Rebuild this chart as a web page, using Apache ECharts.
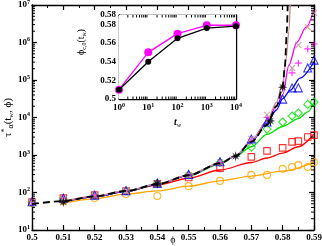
<!DOCTYPE html>
<html><head><meta charset="utf-8">
<script src="https://cdn.jsdelivr.net/npm/echarts@6/dist/echarts.min.js"></script>
<style>html,body{margin:0;padding:0;background:#fff}#c{width:322px;height:246px}</style>
</head><body><div id="c"></div>
<script>
// ---------- data ----------
var xTickLabels = ['0.5','0.51','0.52','0.53','0.54','0.55','0.56','0.57','0.58','0.59'];
var yTickExp = ['1','2','3','4','5','6','7'];
var insetXTickExp = ['0','1','2','3','4'];
var insetYTickLabels = ['0.5','0.52','0.54','0.56','0.58'];

// fitted/guide curve (black dashed)
var dashX = [0.5,0.51,0.52,0.53,0.54,0.55,0.56,0.565,0.57,0.575,0.578,0.58,0.5807,0.5813,0.5816];
var dashY = [49,59,79,110,166,288,603,933,2239,6310,19953,63096,223872,1778279,1e7];

// colored solid lines
var orangeLineX = [0.51,0.52,0.53,0.54,0.55,0.56,0.57,0.58,0.59];
var orangeLineY = [52,68,91,110,148,204,275,372,646];
var redLineX = [0.51,0.52,0.53,0.54,0.55,0.56,0.57,0.575,0.58,0.585,0.59];
var redLineY = [56,76,107,158,240,398,631,832,1122,1660,3631];
var greenLineX = [0.51,0.52,0.53,0.54,0.55,0.56,0.565,0.57,0.575,0.58,0.585,0.588,0.59];
var greenLineY = [56,76,107,166,282,575,933,1660,3548,5754,9333,14125,25119];
var blueLineX = [0.51,0.52,0.53,0.54,0.55,0.56,0.565,0.57,0.575,0.578,0.58,0.5825,0.5855,0.59];
var blueLineY = [56,76,107,166,288,603,933,2239,7079,15849,31623,53703,112202,301995];
var magentaLineX = [0.51,0.52,0.53,0.54,0.55,0.56,0.565,0.57,0.575,0.578,0.58,0.582,0.5845,0.5875,0.59];
var magentaLineY = [57,78,110,168,292,610,950,2344,7943,19953,39811,251189,1e6,2570396,7413102];
var rosyLineX = [0.51,0.52,0.53,0.54,0.55,0.56,0.565,0.57,0.575,0.578,0.58,0.581,0.582,0.5824];
var rosyLineY = [58,80,112,170,295,620,960,2344,7943,25119,79433,316228,1995262,1e7];

// markers
var orangePtsX = [0.5,0.51,0.52,0.53,0.54,0.55,0.56,0.57,0.575,0.58,0.583,0.585,0.588,0.59];
var orangePtsY = [52,58,71,91,81,148,204,295,295,427,479,537,479,646];
var redPtsX = [0.5,0.51,0.52,0.53,0.54,0.55,0.56,0.57,0.575,0.58,0.583,0.585,0.588,0.59];
var redPtsY = [56,71,85,110,170,251,447,891,1288,1549,2239,2344,3020,3388];
var greenPtsX = [0.5,0.51,0.52,0.53,0.54,0.55,0.56,0.57,0.575,0.58,0.583,0.585,0.588,0.59];
var greenPtsY = [55,66,83,110,174,295,631,1622,4898,7586,10965,13183,22387,25704];
var bluePtsX = [0.5,0.51,0.52,0.53,0.54,0.55,0.56,0.57,0.575,0.58,0.583,0.585,0.588,0.59];
var bluePtsY = [57,70,85,112,178,302,661,2692,7586,30903,61660,61660,208930,338844];
var plusPtsX = [0.5,0.51,0.52,0.53,0.54,0.55,0.56,0.57,0.575,0.583,0.585,0.588,0.59];
var plusPtsY = [55,68,85,110,174,295,631,2512,10000,154882,281838,676083,912011];
var crossPtsX = [0.5,0.51,0.52,0.53,0.54,0.55,0.56,0.57,0.575,0.583,0.585,0.588,0.59];
var crossPtsY = [53,66,83,107,170,290,640,2692,11749,208930,851138,2570396,6165950];
var starPtsX = [0.51,0.54,0.565,0.5761,0.58];
var starPtsY = [56,170,933,8128,64565];

// inset
var insetX = [1,10,100,1000,10000];
var insetBlackY = [0.51,0.54,0.565,0.576,0.578];
var insetMagentaY = [0.51,0.55,0.57,0.579,0.579];

// ---------- helpers ----------
function pairs(xs, ys){ return xs.map(function(x,i){ return [x, ys[i]]; }); }
var FONT = 'Liberation Serif';
var supRich = { base:{fontFamily:FONT,fontWeight:'bold',fontSize:9,color:'#000'},
                sup:{fontFamily:FONT,fontWeight:'bold',fontSize:6,color:'#000',verticalAlign:'top',padding:[0,0,6,0]} };

var logMinorMain = [];
for (var e = 1; e < 7; e++) for (var m = 2; m <= 9; m++) logMinorMain.push([0.5, m*Math.pow(10,e)]);
var logMinorInset = [];
for (var e2 = 0; e2 < 4; e2++) for (var m2 = 2; m2 <= 9; m2++) logMinorInset.push([m2*Math.pow(10,e2), 0.5]);

var PLUS = 'path://M0,5L10,5M5,0L5,10';
var CROSS = 'path://M0,0L10,10M0,10L10,0';
var STAR = 'path://M0,-10L1.8,-3.5L7.1,-7.1L3.5,-1.8L10,0L3.5,1.8L7.1,7.1L1.8,3.5L0,10L-1.8,3.5L-7.1,7.1L-3.5,1.8L-10,0L-3.5,-1.8L-7.1,-7.1L-1.8,-3.5Z';

function lineS(xs, ys, color){
  return {type:'line', xAxisIndex:0, yAxisIndex:0, data:pairs(xs,ys), showSymbol:false, symbol:'none',
          smooth:0.3, smoothMonotone:'x', lineStyle:{color:color,width:1.3}, z:3, silent:true, animation:false};
}
function ptsS(xs, ys, color, symbol, size){
  return {type:'scatter', xAxisIndex:0, yAxisIndex:0, data:pairs(xs,ys), symbol:symbol, symbolSize:size,
          itemStyle:{color:'none', borderColor:color, borderWidth:1.1}, z:4, silent:true, animation:false};
}

var chart = echarts.init(document.getElementById('c'), null, {renderer:'canvas'});
var axisLine = {show:true, lineStyle:{color:'#000', width:1.4}};

var option = {
  backgroundColor:'#fff',
  animation:false,
  grid:[
    {left:32, right:8, top:5, bottom:16, containLabel:false, outerBoundsMode:'none'},
    {left:119, top:15, width:117, height:84, show:true, backgroundColor:'#fff', borderWidth:0, z:2, containLabel:false, outerBoundsMode:'none'}
  ],
  xAxis:[
    {type:'value', gridIndex:0, min:0.5, max:0.59, interval:0.01, position:'bottom',
     axisLine:axisLine, axisTick:{inside:true,length:5,lineStyle:{width:1.2}},
     minorTick:{show:true,splitNumber:2,length:3,lineStyle:{color:'#000'}},
     splitLine:{show:false},
     axisLabel:{margin:3, fontFamily:FONT, fontWeight:'bold', fontSize:9, color:'#000',
       formatter:function(v){ return xTickLabels[Math.round((v-0.5)/0.01)]; }},
     name:'ϕ', nameLocation:'middle', nameGap:5, nameMoveOverlap:false, nameTextStyle:{fontFamily:FONT,fontSize:10,color:'#000'}},
    {type:'value', gridIndex:0, min:0.5, max:0.59, interval:0.01, position:'top',
     axisLine:axisLine, axisTick:{inside:true,length:5,lineStyle:{width:1.2}},
     minorTick:{show:true,splitNumber:2,length:3,lineStyle:{color:'#000'}},
     splitLine:{show:false}, axisLabel:{show:false}},
    {type:'log', gridIndex:1, min:1, max:10000, logBase:10, position:'bottom',
     axisLine:axisLine, axisTick:{inside:true,length:4}, splitLine:{show:false},
     axisLabel:{margin:3, rich:supRich, formatter:function(v){ var i=Math.round(Math.log10(v)); return '{base|10}{sup|'+insetXTickExp[i]+'}'; }},
     name:'{t|t}{w|w}', nameLocation:'middle', nameGap:18, nameMoveOverlap:false,
     nameTextStyle:{rich:{t:{fontFamily:FONT,fontStyle:'italic',fontWeight:'bold',fontSize:10,color:'#000'},
                          w:{fontFamily:FONT,fontStyle:'italic',fontSize:6,color:'#000',verticalAlign:'bottom',padding:[5,0,0,0]}}}},
    {type:'log', gridIndex:1, min:1, max:10000, logBase:10, position:'top',
     axisLine:axisLine, axisTick:{inside:true,length:4}, splitLine:{show:false}, axisLabel:{show:false}}
  ],
  yAxis:[
    {type:'log', gridIndex:0, min:10, max:1e7, logBase:10, position:'left',
     axisLine:axisLine, axisTick:{inside:true,length:5,lineStyle:{width:1.2}}, splitLine:{show:false},
     axisLabel:{margin:2, rich:supRich, formatter:function(v){ var i=Math.round(Math.log10(v))-1; return '{base|10}{sup|'+yTickExp[i]+'}'; }},
     name:'{a|τ}{s|*}{b|α}{c|(t}{d|w}{c|, ϕ)}', nameLocation:'middle', nameGap:17, nameRotate:90, nameMoveOverlap:false,
     nameTextStyle:{rich:{
       a:{fontFamily:FONT,fontSize:11,color:'#000'},
       s:{fontFamily:FONT,fontSize:8,color:'#000',verticalAlign:'top',padding:[0,0,6,0]},
       b:{fontFamily:FONT,fontSize:8,color:'#000',verticalAlign:'bottom',padding:[5,0,0,0]},
       c:{fontFamily:FONT,fontSize:11,color:'#000'},
       d:{fontFamily:FONT,fontStyle:'italic',fontSize:7,color:'#000',verticalAlign:'bottom',padding:[5,0,0,0]}}}},
    {type:'log', gridIndex:0, min:10, max:1e7, logBase:10, position:'right',
     axisLine:axisLine, axisTick:{inside:true,length:5,lineStyle:{width:1.2}}, splitLine:{show:false}, axisLabel:{show:false}},
    {type:'value', gridIndex:1, min:0.5, max:0.59, interval:0.02, position:'left',
     axisLine:axisLine, axisTick:{inside:true,length:4}, minorTick:{show:true,splitNumber:2,length:2,lineStyle:{color:'#000'}},
     splitLine:{show:false},
     axisLabel:{margin:3, fontFamily:FONT, fontWeight:'bold', fontSize:9, color:'#000',
       formatter:function(v){ var i=Math.round((v-0.5)/0.02); return insetYTickLabels[i]||''; }},
     name:'{p|ϕ}{s|c,0}{p|(t}{w|w}{p|)}', nameLocation:'middle', nameGap:32, nameRotate:90, nameMoveOverlap:false,
     nameTextStyle:{padding:[0,0,0,30], rich:{p:{fontFamily:FONT,fontSize:10,color:'#000'},
       s:{fontFamily:FONT,fontSize:6,color:'#000',verticalAlign:'bottom',padding:[5,0,0,0]},
       w:{fontFamily:FONT,fontStyle:'italic',fontSize:6,color:'#000',verticalAlign:'bottom',padding:[5,0,0,0]}}}},
    {type:'value', gridIndex:1, min:0.5, max:0.59, interval:0.02, position:'right',
     axisLine:axisLine, axisTick:{inside:true,length:4}, minorTick:{show:true,splitNumber:2,length:2,lineStyle:{color:'#000'}},
     splitLine:{show:false}, axisLabel:{show:false}}
  ],
  series:[
    lineS(orangeLineX, orangeLineY, '#FFA500'),
    lineS(redLineX, redLineY, '#FF0000'),
    lineS(greenLineX, greenLineY, '#00E000'),
    lineS(blueLineX, blueLineY, '#0000FF'),
    lineS(magentaLineX, magentaLineY, '#FF00FF'),
    lineS(rosyLineX, rosyLineY, '#BC8F8F'),
    ptsS(orangePtsX, orangePtsY, '#FFA500', 'circle', 7),
    ptsS(redPtsX, redPtsY, '#FF0000', 'rect', 6.5),
    ptsS(greenPtsX, greenPtsY, '#00E000', 'diamond', 8),
    ptsS(bluePtsX, bluePtsY, '#0000FF', 'triangle', 8),
    ptsS(plusPtsX, plusPtsY, '#FF00FF', PLUS, 7),
    ptsS(crossPtsX, crossPtsY, '#BC8F8F', CROSS, 6),
    {type:'line', xAxisIndex:0, yAxisIndex:0, data:pairs(dashX,dashY), showSymbol:false, symbol:'none',
     smooth:0.3, smoothMonotone:'x', lineStyle:{color:'#000',width:1.8,type:[7,4]}, z:5, silent:true, animation:false},
    {type:'scatter', xAxisIndex:0, yAxisIndex:0, data:pairs(starPtsX,starPtsY), symbol:STAR, symbolSize:10,
     itemStyle:{color:'#000'}, z:6, silent:true, animation:false},
    // log minor ticks (main y, both sides)
    {type:'custom', xAxisIndex:0, yAxisIndex:0, data:logMinorMain, silent:true, z:7, animation:false, clip:false,
     renderItem:function(params, api){
       var p = api.coord([api.value(0), api.value(1)]); var cs = params.coordSys;
       return {type:'group', children:[
         {type:'line', shape:{x1:cs.x, y1:p[1], x2:cs.x+3, y2:p[1]}, style:{stroke:'#000', lineWidth:1}},
         {type:'line', shape:{x1:cs.x+cs.width, y1:p[1], x2:cs.x+cs.width-3, y2:p[1]}, style:{stroke:'#000', lineWidth:1}}
       ]};
     }},
    // inset
    {type:'line', xAxisIndex:2, yAxisIndex:2, data:pairs(insetX,insetMagentaY), symbol:'circle', symbolSize:8,
     lineStyle:{color:'#FF00FF',width:1.3}, itemStyle:{color:'#FF00FF'}, z:8, silent:true, animation:false},
    {type:'line', xAxisIndex:2, yAxisIndex:2, data:pairs(insetX,insetBlackY), symbol:'circle', symbolSize:6,
     lineStyle:{color:'#000',width:1.3}, itemStyle:{color:'#000'}, z:9, silent:true, animation:false},
    {type:'custom', xAxisIndex:2, yAxisIndex:2, data:logMinorInset, silent:true, z:10, animation:false, clip:false,
     renderItem:function(params, api){
       var p = api.coord([api.value(0), api.value(1)]); var cs = params.coordSys;
       return {type:'group', children:[
         {type:'line', shape:{x1:p[0], y1:cs.y+cs.height, x2:p[0], y2:cs.y+cs.height-2.5}, style:{stroke:'#000', lineWidth:1}},
         {type:'line', shape:{x1:p[0], y1:cs.y, x2:p[0], y2:cs.y+2.5}, style:{stroke:'#000', lineWidth:1}}
       ]};
     }}
  ]
};
chart.setOption(option);
</script>
</body></html>
